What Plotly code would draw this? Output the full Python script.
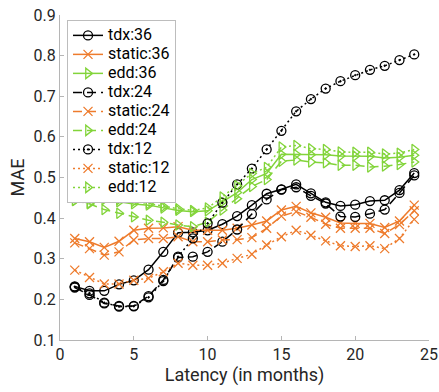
import plotly.graph_objects as go

latency = list(range(1, 25))

tdx_36 = [0.232, 0.221, 0.221, 0.237, 0.247, 0.273, 0.317, 0.364, 0.365, 0.370, 0.385, 0.405,
          0.432, 0.460, 0.471, 0.483, 0.461, 0.439, 0.430, 0.433, 0.442, 0.444, 0.469, 0.511]
tdx_24 = [0.229, 0.211, 0.190, 0.184, 0.184, 0.208, 0.248, 0.303, 0.305, 0.317, 0.342, 0.372,
          0.410, 0.446, 0.470, 0.476, 0.455, 0.436, 0.404, 0.403, 0.411, 0.421, 0.462, 0.505]
tdx_12 = [0.231, 0.215, 0.192, 0.182, 0.183, 0.205, 0.245, 0.305, 0.350, 0.387, 0.438, 0.483,
          0.522, 0.569, 0.615, 0.663, 0.693, 0.719, 0.737, 0.752, 0.765, 0.775, 0.789, 0.803]

static_36 = [0.350, 0.342, 0.328, 0.343, 0.370, 0.375, 0.376, 0.379, 0.370, 0.370, 0.370, 0.375,
             0.383, 0.393, 0.420, 0.429, 0.413, 0.402, 0.388, 0.387, 0.387, 0.377, 0.393, 0.432]
static_24 = [0.339, 0.325, 0.309, 0.317, 0.346, 0.350, 0.350, 0.354, 0.342, 0.342, 0.346, 0.347,
             0.352, 0.375, 0.405, 0.416, 0.402, 0.385, 0.375, 0.375, 0.375, 0.362, 0.384, 0.418]
static_12 = [0.272, 0.254, 0.238, 0.238, 0.247, 0.252, 0.268, 0.289, 0.284, 0.284, 0.289, 0.301,
             0.311, 0.334, 0.354, 0.370, 0.358, 0.344, 0.332, 0.330, 0.332, 0.325, 0.350, 0.397]

edd_36 = [0.443, 0.437, 0.446, 0.440, 0.435, 0.432, 0.425, 0.419, 0.416, 0.418, 0.440, 0.463,
          0.495, 0.510, 0.557, 0.557, 0.556, 0.556, 0.553, 0.553, 0.552, 0.548, 0.550, 0.555]
edd_24 = [0.443, 0.435, 0.421, 0.412, 0.403, 0.395, 0.390, 0.383, 0.379, 0.390, 0.420, 0.448,
          0.478, 0.495, 0.540, 0.543, 0.538, 0.536, 0.530, 0.530, 0.526, 0.528, 0.532, 0.538]
edd_12 = [0.470, 0.465, 0.452, 0.446, 0.441, 0.436, 0.429, 0.423, 0.419, 0.425, 0.452, 0.480,
          0.510, 0.525, 0.575, 0.579, 0.571, 0.569, 0.563, 0.562, 0.562, 0.558, 0.560, 0.569]

x_ticks = [0, 5, 10, 15, 20, 25]
y_ticks = [0.1, 0.2, 0.3, 0.4, 0.5, 0.6, 0.7, 0.8, 0.9]

BLACK = "#000000"
ORANGE = "#EE7B2C"
GREEN = "#82D43A"

DASH = "9px,5px"
DOT = "2px,3px"

series = [
    ("tdx:36", tdx_36, BLACK, "solid", "circle-open"),
    ("static:36", static_36, ORANGE, "solid", "x-thin-open"),
    ("edd:36", edd_36, GREEN, "solid", "triangle-right-open"),
    ("tdx:24", tdx_24, BLACK, DASH, "circle-open"),
    ("static:24", static_24, ORANGE, DASH, "x-thin-open"),
    ("edd:24", edd_24, GREEN, DASH, "triangle-right-open"),
    ("tdx:12", tdx_12, BLACK, DOT, "circle-open-dot"),
    ("static:12", static_12, ORANGE, DOT, "x-thin-open"),
    ("edd:12", edd_12, GREEN, DOT, "triangle-right-open"),
]

fig = go.Figure()
for name, vals, col, dash, sym in series:
    fig.add_trace(go.Scatter(
        x=latency, y=vals, name="<span style='font-size:16px'>" + name + "</span>",
        mode="lines+markers",
        line=dict(color=col, width=1.5, dash=dash),
        marker=dict(symbol=sym, size=9, color=col, line=dict(color=col, width=1.3)),
    ))

axis_common = dict(
    showline=True, linecolor="#b5b5b5", linewidth=1,
    ticks="inside", ticklen=4, tickcolor="#b5b5b5",
    showgrid=False, zeroline=False, mirror=False, automargin=False,
    tickfont=dict(size=16, color="#262626"),
)

fig.update_layout(
    width=439, height=392,
    margin=dict(l=60, r=10, t=15, b=52, autoexpand=False),
    plot_bgcolor="white", paper_bgcolor="white",
    font=dict(family="Roboto", color="#262626"),
    xaxis=dict(range=[0, 25], tickvals=x_ticks,
               title=dict(text="Latency (in months)", font=dict(size=18), standoff=2),
               **axis_common),
    yaxis=dict(range=[0.1, 0.9], tickvals=y_ticks, tickformat=".1f",
               title=dict(text="MAE", font=dict(size=18), standoff=4),
               **axis_common),
    legend=dict(x=0.019, y=0.985, xanchor="left", yanchor="top",
                bgcolor="white", bordercolor="#bdbdbd", borderwidth=1,
                font=dict(size=12, color="#000000"), itemwidth=30,
                tracegroupgap=0, traceorder="normal"),
    showlegend=True,
)

fig.write_html("out.html", config={"displayModeBar": False},
               post_script="document.body.style.margin='0px';")
